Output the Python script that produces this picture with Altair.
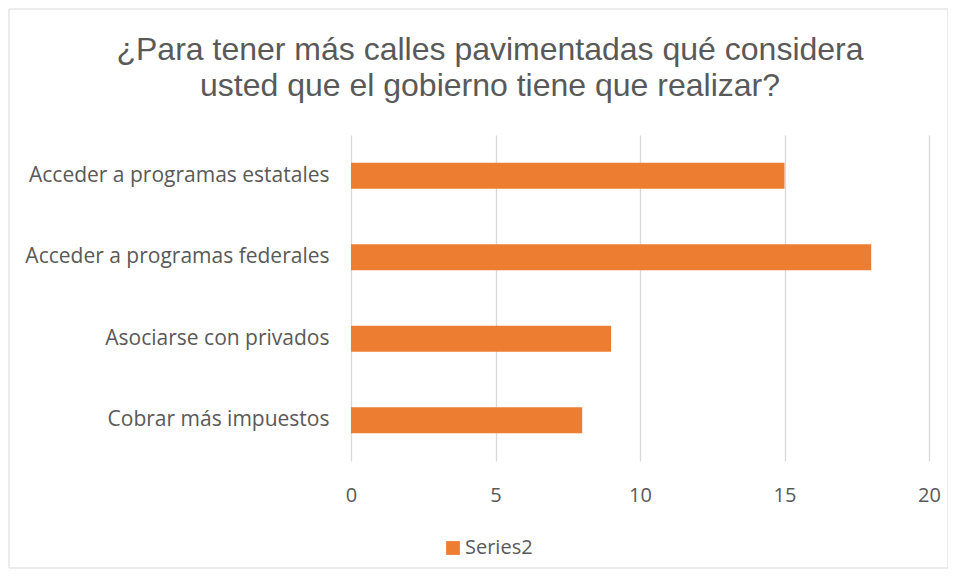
import altair as alt
import pandas as pd

categories = [
    "Acceder a programas estatales",
    "Acceder a programas federales",
    "Asociarse con privados",
    "Cobrar más impuestos",
]
values = [15, 18, 9, 8]
series_name = "Series2"
x_ticks = [0, 5, 10, 15, 20]
title_lines = ["¿Para tener más calles pavimentadas qué considera", "usted que el gobierno tiene que realizar?"]

df = pd.DataFrame({"categoria": categories, "valor": values, "serie": [series_name] * len(categories)})

LABEL_FONT = "Open Sans"
GREY = "#595959"

bars = alt.Chart(df).mark_bar(color="#ED7D31").encode(
    y=alt.Y(
        "categoria:N",
        sort=categories,
        title=None,
        scale=alt.Scale(paddingInner=0.68, paddingOuter=0.34),
        axis=alt.Axis(
            domain=False, ticks=False, grid=False, labelPadding=22,
            labelFont=LABEL_FONT, labelFontSize=21, labelColor=GREY, labelLimit=400,
        ),
    ),
    x=alt.X(
        "valor:Q",
        title=None,
        scale=alt.Scale(domain=[0, 20], nice=False),
        axis=alt.Axis(
            values=x_ticks, domain=False, ticks=False, grid=True, gridColor="#D9D9D9",
            gridWidth=1.3, labelPadding=24, labelFont=LABEL_FONT, labelFontSize=20,
            labelColor=GREY, labelFlush=False,
        ),
    ),
    color=alt.Color(
        "serie:N",
        scale=alt.Scale(domain=[series_name], range=["#ED7D31"]),
        legend=alt.Legend(
            title=None, orient="none", legendX=92, legendY=403,
            symbolType="square", symbolSize=190, symbolStrokeWidth=0,
            labelFont=LABEL_FONT, labelFontSize=20, labelColor=GREY,
            labelOffset=2,
        ),
    ),
)

border = alt.Chart(pd.DataFrame({"b": [0]})).mark_rect(
    fill=None, stroke="#D9D9D9", strokeWidth=1
).encode(
    x=alt.value(-342), x2=alt.value(597), y=alt.value(-126), y2=alt.value(433)
)

title_df = pd.DataFrame({"linea": title_lines, "i": list(range(len(title_lines)))})
title = alt.Chart(title_df).mark_text(
    font="Liberation Sans", fontSize=32, color=GREY, align="center", baseline="alphabetic"
).encode(
    text="linea:N",
    x=alt.value(139),
    y=alt.Y("i:Q", axis=None, scale=alt.Scale(domain=[0, 1], range=[-75, -39])),
)

chart = alt.layer(border, bars, title).resolve_scale(y="independent").properties(
    width=578,
    height=326,
    background="white",
    padding={"left": 343, "top": 127, "right": 19, "bottom": 110},
    autosize=alt.AutoSizeParams(type="none"),
).configure_view(stroke="transparent", strokeWidth=0)

chart.save("out.html", embed_options={"renderer": "svg", "actions": False})
